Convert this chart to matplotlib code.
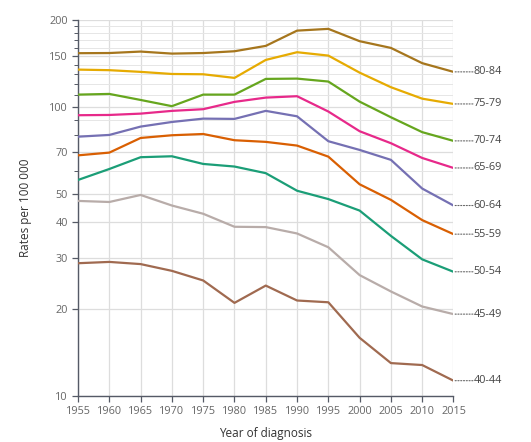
import matplotlib.pyplot as plt
from matplotlib.ticker import FixedLocator, NullFormatter

plt.rcParams['font.family'] = ['Open Sans', 'DejaVu Sans']

years = [1955, 1960, 1965, 1970, 1975, 1980, 1985, 1990, 1995, 2000, 2005, 2010, 2015]

age_groups = ['80-84', '75-79', '70-74', '65-69', '60-64', '55-59', '50-54', '45-49', '40-44']
colors = ['#a6761d', '#e6ab02', '#66a61e', '#e7298a', '#7570b3', '#d95f02', '#1b9e77', '#b8aca9', '#a06a50']

r80_84 = [153.4, 153.6, 155.4, 152.9, 153.6, 155.8, 162.6, 183.6, 186.2, 168.8, 160.0, 141.7, 132.2]
r75_79 = [134.6, 134.0, 132.2, 130.0, 129.7, 126.0, 145.4, 154.6, 150.5, 131.4, 117.0, 106.8, 102.4]
r70_74 = [110.3, 110.9, 105.7, 100.6, 110.3, 110.3, 125.0, 125.3, 122.4, 104.3, 92.1, 81.8, 76.3]
r65_69 = [93.6, 93.8, 94.8, 96.9, 98.2, 104.1, 107.7, 108.9, 96.4, 82.4, 74.9, 66.6, 61.5]
r60_64 = [78.9, 80.0, 85.5, 88.7, 91.1, 90.9, 96.9, 92.8, 76.1, 71.0, 65.6, 52.2, 45.6]
r55_59 = [68.0, 69.5, 78.1, 79.8, 80.6, 76.7, 75.7, 73.5, 67.3, 54.0, 47.7, 40.6, 36.3]
r50_54 = [55.9, 61.0, 67.0, 67.5, 63.5, 62.2, 59.0, 51.3, 48.0, 43.8, 35.8, 29.7, 26.9]
r45_49 = [47.3, 46.9, 49.6, 45.6, 42.7, 38.5, 38.4, 36.5, 32.7, 26.2, 23.0, 20.4, 19.2]
r40_44 = [28.8, 29.1, 28.6, 27.1, 25.1, 21.0, 24.1, 21.4, 21.1, 15.9, 13.0, 12.8, 11.3]

series = [r80_84, r75_79, r70_74, r65_69, r60_64, r55_59, r50_54, r45_49, r40_44]

major_ticks = [10, 20, 30, 40, 50, 70, 100, 150, 200]
minor_ticks = [60, 80, 90, 110, 120, 130, 140, 160, 170, 180, 190]

fig = plt.figure(figsize=(5.31, 4.42), dpi=100)
ax = fig.add_axes([0.147, 0.104, 0.707, 0.851])

for name, vals, c in zip(age_groups, series, colors):
    ax.plot(years, vals, color=c, lw=1.6, zorder=3, solid_joinstyle='round')
    ax.annotate('', xy=(2015, vals[-1]), xytext=(14, 0), textcoords='offset points',
                arrowprops=dict(arrowstyle='-', linestyle=(0, (1, 1.5)), color='#666666', lw=0.8,
                                shrinkA=0, shrinkB=0), annotation_clip=False)
    ax.annotate(name, xy=(2015, vals[-1]), xytext=(14.5, 0), textcoords='offset points',
                va='center', ha='left', fontsize=7.8, color='#444444', annotation_clip=False)

ax.set_yscale('log')
ax.set_ylim(10, 200)
ax.set_xlim(1955, 2015)
ax.yaxis.set_major_locator(FixedLocator(major_ticks))
ax.yaxis.set_minor_locator(FixedLocator(minor_ticks))
ax.yaxis.set_major_formatter(plt.FuncFormatter(lambda v, p: f'{v:g}'))
ax.yaxis.set_minor_formatter(NullFormatter())
ax.set_xticks(years)

ax.grid(True, which='major', color='#dddddd', lw=0.9)
ax.grid(True, which='minor', axis='y', color='#e6e6e6', lw=0.7)
ax.set_axisbelow(True)

for s in ['top', 'right']:
    ax.spines[s].set_visible(False)
for s in ['left', 'bottom']:
    ax.spines[s].set_color('#555a66')
    ax.spines[s].set_linewidth(1.0)

ax.tick_params(axis='both', which='major', labelsize=7.8, colors='#555a66', labelcolor='#666666',
               length=4, width=0.9)
ax.tick_params(axis='y', which='minor', colors='#555a66', length=3, width=0.7)

ax.set_xlabel('Year of diagnosis', fontsize=8.5, color='#333333', labelpad=7)
ax.set_ylabel('Rates per 100 000', fontsize=8.5, color='#333333', labelpad=12)

fig.savefig('out.png', dpi=100)
